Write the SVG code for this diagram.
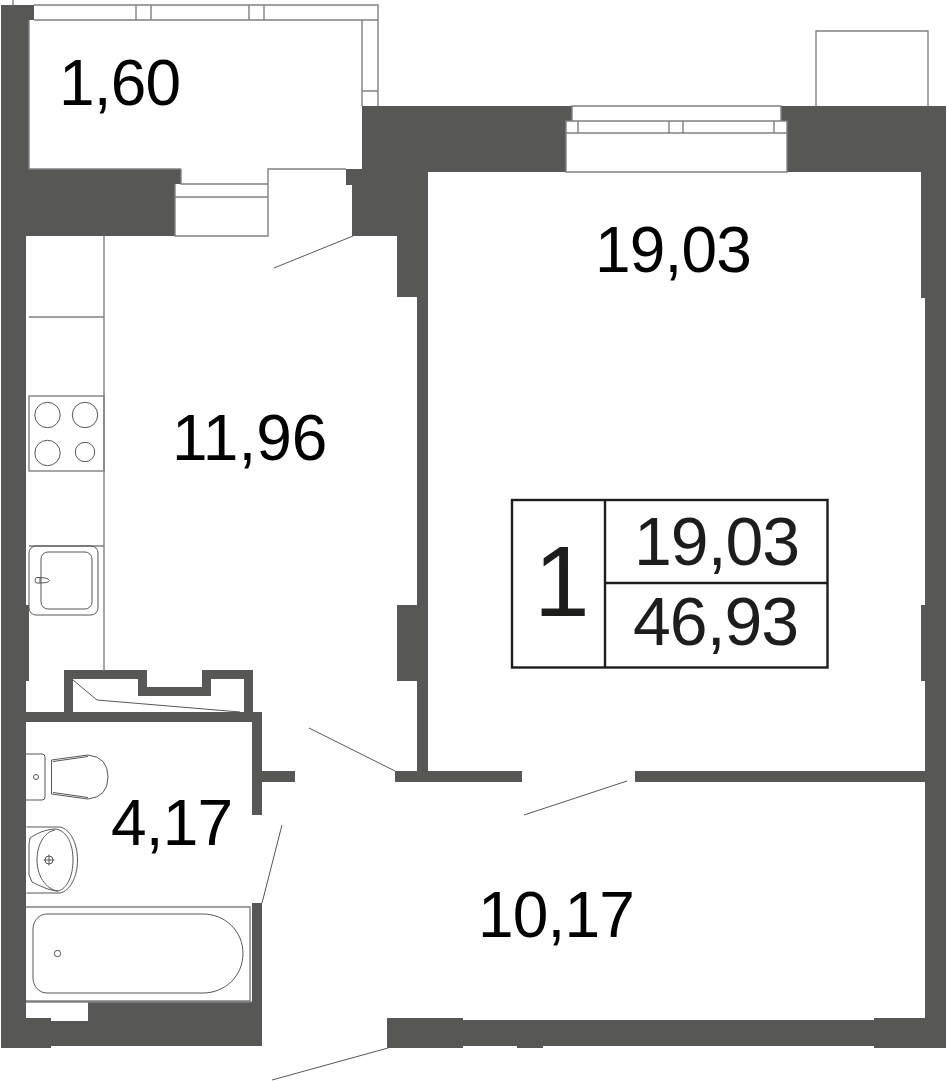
<svg xmlns="http://www.w3.org/2000/svg" width="947" height="1081" viewBox="0 0 947 1081">
<style>
.w{fill:#575756;stroke:none}
.l{fill:none;stroke:#808080;stroke-width:1.4}
.d{fill:none;stroke:#575756;stroke-width:1}
.t{font-family:"Liberation Sans",Arial,sans-serif;font-size:64px;fill:#000;letter-spacing:-.8px}
.g{font-family:"Liberation Sans",Arial,sans-serif;font-size:68px;fill:#1d1d1b;letter-spacing:-1px}
.b{fill:none;stroke:#1d1d1b;stroke-width:2.4}
</style>
<rect width="947" height="1081" fill="#fff"/>
<g id="walls">
<polygon class="w" points="1,5 34,5 34,20 29,20 29,169 181,169 181,184 175,184 175,236 26,236 26,605 29,605 29,681 26,681 26,1018 51,1018 51,1021 88,1021 88,1002 252,1002 252,903 262,903 262,1046 51,1046 51,1048 1,1048"/>
<polygon class="w" points="362,106 572,106 572,121 566,121 566,172 428,172 428,771 417,771 417,681 397,681 397,605 417,605 417,297 397,297 397,236 352,236 352,185 346,185 346,169 362,169"/>
<polygon class="w" points="781,106 946,106 946,1048 874,1048 874,1018 925,1018 925,681 921,681 921,605 925,605 925,298 921,298 921,172 787,172 787,121 781,121"/>
<polygon class="w" points="387,1018 463,1018 463,1020 874,1020 874,1046 543,1046 543,1048 517,1048 517,1046 463,1046 463,1048 387,1048"/>
<rect class="w" x="395" y="771" width="127" height="11"/>
<rect class="w" x="635" y="771" width="290" height="11"/>
<polygon class="w" points="26,712 262,712 262,815 252,815 252,722 26,722"/>
<rect class="w" x="262" y="771" width="33" height="11"/>
<polygon class="w" points="64,712 64,670 147,670 147,687 202,687 202,670 253,670 253,712 244,712 244,679 211,679 211,696 138,696 138,679 73,679 73,712"/>
</g>
<g id="balcony-windows">
<path class="l" d="M34 5H378V106M34 20H378M29 20V169H181M362 20V106M136 5V20M151 5V20M249 5V20M264 5V20M362 91H378"/>
<path class="l" d="M181 169V184H268M175 184V236H268V169H346M175 197H268"/>
<path class="l" d="M13 0V5"/>
<path class="l" d="M572 106H781V121H572ZM566 121H787V172H566ZM566 133H787M578 121V133M669 121V133M683 121V133M774 121V133"/>
<path class="l" d="M816 106V31H928V106"/>
</g>
<g id="kitchen">
<path class="l" d="M104 236V671M29 317H104M29 546H104"/>
<rect class="l" x="29" y="396" width="75" height="75"/>
<circle class="d" cx="47.500" cy="415" r="12.700"/>
<circle class="d" cx="85" cy="415" r="12.700"/>
<circle class="d" cx="47.500" cy="453" r="12.700"/>
<circle class="d" cx="85" cy="452" r="9.700"/>
<rect class="d" x="29" y="546" width="69" height="69" rx="7"/>
<rect class="d" x="41" y="552" width="51" height="57" rx="7"/>
<path class="d" d="M37 577.500H40Q49 578 49.500 580.500Q49 583 40 583H37Q35 583 35 580.500Q35 577.500 37 577.500ZM40 577.500V583"/>
<path class="d" d="M73 680L97 700L240 712"/>
</g>
<g id="bathroom">
<path class="d" d="M26 754H42Q45 754 45 757V797Q45 800 42 800H26M36 777m-2.500 0a2.500 2.500 0 1 0 5 0a2.500 2.500 0 1 0 -5 0"/>
<path class="d" d="M51.500 760L88 755Q108 757 108 777Q108 797 88 799L51.500 794ZM53 761.500L88 756.500M53 792.500L88 797.500"/>
<path class="d" d="M26.500 827H60C70 829 77.500 843 77.500 860C77.500 877 70 891 60 893H26.500M30 838C40 831 50 829 56 829C67 831 73 844 73 860C73 876 67 889 58 891C50 891 38 885 32 882L29 875V844Z"/>
<path class="d" d="M55 830C44 832 37 845 37 860C37 875 45 889 58 891"/>
<circle class="d" cx="49" cy="860" r="4"/>
<path class="d" d="M49 854.500V865.500M43.500 860H54.500"/>
<path class="l" d="M26 907H250V1001H26M26 1002H252"/>
<path class="d" d="M47 914H203C225 914 243 931 243 953.500C243 976 225 993 203 993H47C39 993 33 986 33 978V929C33 921 39 914 47 914Z"/>
<circle class="d" cx="57.500" cy="953.500" r="3.200"/>
</g>
<g id="connectors">
<path class="d" d="M353 236L274 268M395 771L309 728M627 781L524 815M262 903L282 825M388 1048L272 1080"/>
</g>
<g id="room-labels">
<text class="t" x="59" y="105">1,60</text>
<text class="t" x="595" y="272">19,03</text>
<text class="t" x="172" y="460" style="letter-spacing:0">11,96</text>
<text class="t" x="111" y="845">4,17</text>
<text class="t" x="478" y="937">10,17</text>
</g>
<g id="summary">
<rect class="b" x="512" y="500" width="315.500" height="167.500"/>
<path class="b" d="M605 500V667M605 583H827"/>
<text class="g" x="534" y="616" style="font-size:100px;letter-spacing:0">1</text>
<text class="g" x="634" y="565">19,03</text>
<text class="g" x="633" y="645">46,93</text>
</g>
</svg>
